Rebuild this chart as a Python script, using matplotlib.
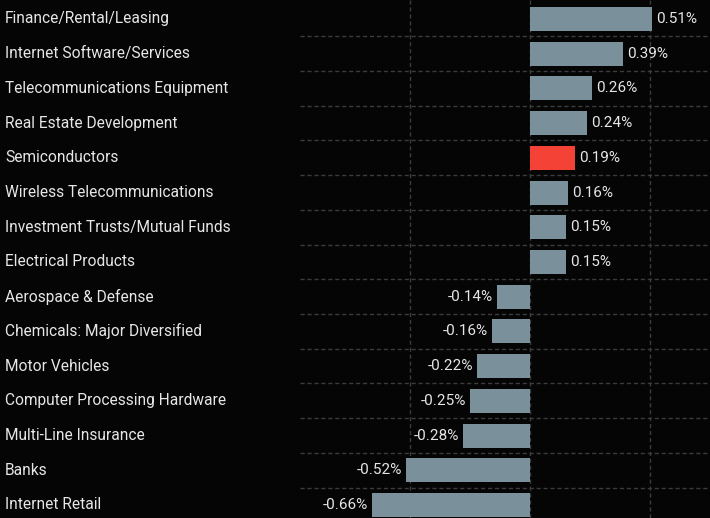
import matplotlib
matplotlib.use("Agg")
import matplotlib.pyplot as plt
from matplotlib.transforms import blended_transform_factory

categories = [
    "Finance/Rental/Leasing",
    "Internet Software/Services",
    "Telecommunications Equipment",
    "Real Estate Development",
    "Semiconductors",
    "Wireless Telecommunications",
    "Investment Trusts/Mutual Funds",
    "Electrical Products",
    "Aerospace & Defense",
    "Chemicals: Major Diversified",
    "Motor Vehicles",
    "Computer Processing Hardware",
    "Multi-Line Insurance",
    "Banks",
    "Internet Retail",
]
values = [0.51, 0.39, 0.26, 0.24, 0.19, 0.16, 0.15, 0.15,
          -0.14, -0.16, -0.22, -0.25, -0.28, -0.52, -0.66]
highlight = "Semiconductors"
grid_x = [-0.5, 0.0, 0.5]

plt.rcParams["font.family"] = ["Roboto", "DejaVu Sans"]

BG = "#050505"
BAR = "#7a919b"
RED = "#f44336"
TXT = "#e6e6e6"
GRID = "#3c3c3c"

fig = plt.figure(figsize=(7.10, 5.18), dpi=100, facecolor=BG)
ax = fig.add_axes([300 / 710, 0, 410 / 710, 1], facecolor=BG)

ypos = list(range(len(categories)))
colors = [RED if c == highlight else BAR for c in categories]
ax.barh(ypos, values, height=0.69, color=colors, zorder=3)

ax.set_xlim(-0.962, 0.753)
ax.set_ylim(14.375, -0.547)

ax.set_xticks(grid_x)
ax.set_yticks([y + 0.5 for y in ypos[:-1]])
ax.grid(True, color=GRID, linestyle=(0, (3, 2)), linewidth=1.0, zorder=0)
ax.tick_params(length=0, labelbottom=False, labelleft=False)
for s in ax.spines.values():
    s.set_visible(False)

trans = blended_transform_factory(fig.transFigure, ax.transData)
for y, c in zip(ypos, categories):
    ax.text(5 / 710, y, c, transform=trans, ha="left", va="center",
            color=TXT, fontsize=11.2, clip_on=False)

for y, v in zip(ypos, values):
    off = 0.016 if v >= 0 else -0.016
    ax.text(v + off, y, f"{v:.2f}%", ha="left" if v >= 0 else "right",
            va="center", color=TXT, fontsize=11, zorder=4)

fig.savefig("out.png", dpi=100, facecolor=BG)
